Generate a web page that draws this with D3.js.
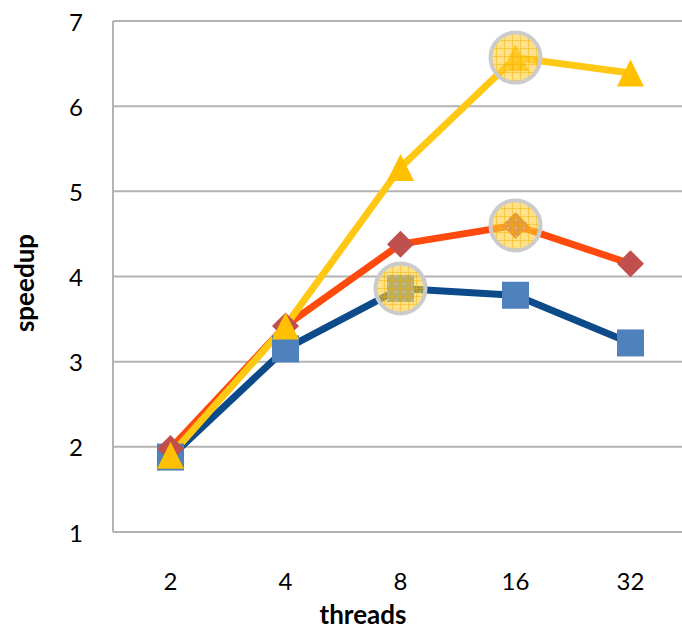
<!DOCTYPE html>
<html>
<head>
<meta charset="utf-8">
<script src="https://cdn.jsdelivr.net/npm/d3@7/dist/d3.min.js"></script>
<style>
  html, body { margin: 0; padding: 0; background: #fff; overflow: hidden; }
  svg { display: block; }
</style>
</head>
<body>
<script>
// Thread counts on the x axis
const threads = ["2", "4", "8", "16", "32"];
// Speedup per thread count, one array per configuration
const seriesBlue   = [1.88, 3.15, 3.86, 3.78, 3.22];
const seriesRed    = [1.98, 3.42, 4.38, 4.60, 4.15];
const seriesYellow = [1.90, 3.42, 5.28, 6.57, 6.39];
// Y tick labels
const yTicks = [1, 2, 3, 4, 5, 6, 7];
// Best point of each series (index into threads)
const bestIndex = { blue: 2, red: 3, yellow: 3 };

const W = 682, H = 631;
const margin = { left: 113, top: 21, right: -6, bottom: 99 };

const svg = d3.select("body").append("svg")
  .attr("width", W).attr("height", H);

const x = d3.scaleBand()
  .domain(threads)
  .range([margin.left, W - margin.right]);
const y = d3.scaleLinear()
  .domain([1, 7])
  .range([H - margin.bottom, margin.top]);

// Hatched fill for the highlight rings
const defs = svg.append("defs");
const pat = defs.append("pattern")
  .attr("id", "hatch").attr("patternUnits", "userSpaceOnUse")
  .attr("width", 8).attr("height", 8);
pat.append("rect").attr("width", 8).attr("height", 8).attr("fill", "#ffcc33").attr("fill-opacity", 0.6);
pat.append("path").attr("d", "M0,0.5H8M0.5,0V8")
  .attr("stroke", "#f0b000").attr("stroke-width", 1).attr("stroke-opacity", 0.45);
pat.append("circle").attr("cx", 4).attr("cy", 4).attr("r", 0.8).attr("fill", "#fff").attr("fill-opacity", 0.5);

// Horizontal gridlines
svg.append("g")
  .selectAll("line").data(yTicks).join("line")
  .attr("x1", margin.left).attr("x2", W)
  .attr("y1", d => y(d)).attr("y2", d => y(d))
  .attr("stroke", "#b3b3b3").attr("stroke-width", 2);

// Left axis line
svg.append("line")
  .attr("x1", margin.left).attr("x2", margin.left)
  .attr("y1", y(7)).attr("y2", y(1))
  .attr("stroke", "#b3b3b3").attr("stroke-width", 2);

const font = "Lato, 'Open Sans', sans-serif";

// Y tick labels
svg.append("g")
  .selectAll("text").data(yTicks).join("text")
  .attr("x", 83).attr("y", d => y(d))
  .attr("text-anchor", "end").attr("dominant-baseline", "central")
  .attr("font-family", font).attr("font-size", 24).attr("fill", "#000")
  .text(d => d);

// X tick labels
svg.append("g")
  .selectAll("text").data(threads).join("text")
  .attr("x", d => x(d) + x.bandwidth() / 2).attr("y", 580)
  .attr("text-anchor", "middle").attr("dominant-baseline", "central")
  .attr("font-family", font).attr("font-size", 24).attr("fill", "#000")
  .text(d => d);

// Axis titles
svg.append("text")
  .attr("x", 363).attr("y", 614)
  .attr("text-anchor", "middle").attr("dominant-baseline", "central")
  .attr("font-family", font).attr("font-weight", "bold").attr("font-size", 26)
  .text("threads");
svg.append("text")
  .attr("transform", "translate(24,283) rotate(-90)")
  .attr("text-anchor", "middle").attr("dominant-baseline", "central")
  .attr("font-family", font).attr("font-weight", "bold").attr("font-size", 26)
  .text("speedup");

const series = [
  { key: "blue",   values: seriesBlue,   line: "#0c4a89", marker: "#4f81bd", shape: "square" },
  { key: "red",    values: seriesRed,    line: "#ff4a0d", marker: "#c0504d", shape: "diamond" },
  { key: "yellow", values: seriesYellow, line: "#ffc814", marker: "#ffc000", shape: "triangle" }
];

const cx = d => x(d) + x.bandwidth() / 2;
const lineGen = d3.line()
  .x((v, i) => cx(threads[i]))
  .y(v => y(v));

// Lines
svg.append("g").selectAll("path").data(series).join("path")
  .attr("d", s => lineGen(s.values))
  .attr("fill", "none")
  .attr("stroke", s => s.line)
  .attr("stroke-width", 7)
  .attr("stroke-linejoin", "round");

// Markers
function markerPath(shape) {
  const h = 13.5;
  if (shape === "square") return `M${-h},${-h}H${h}V${h}H${-h}Z`;
  if (shape === "diamond") return `M0,${-h}L${h},0L0,${h}L${-h},0Z`;
  return `M0,${-h}L${h},${h}L${-h},${h}Z`;
}
series.forEach(s => {
  svg.append("g").selectAll("path").data(s.values).join("path")
    .attr("transform", (v, i) => `translate(${cx(threads[i])},${y(v)})`)
    .attr("d", markerPath(s.shape))
    .attr("fill", s.marker);
});

// Highlight rings on each series' best point
svg.append("g").selectAll("circle").data(series).join("circle")
  .attr("cx", s => cx(threads[bestIndex[s.key]]))
  .attr("cy", s => y(s.values[bestIndex[s.key]]))
  .attr("r", 25)
  .attr("fill", "url(#hatch)")
  .attr("stroke", "#cbcbcb")
  .attr("stroke-width", 4);
</script>
</body>
</html>
